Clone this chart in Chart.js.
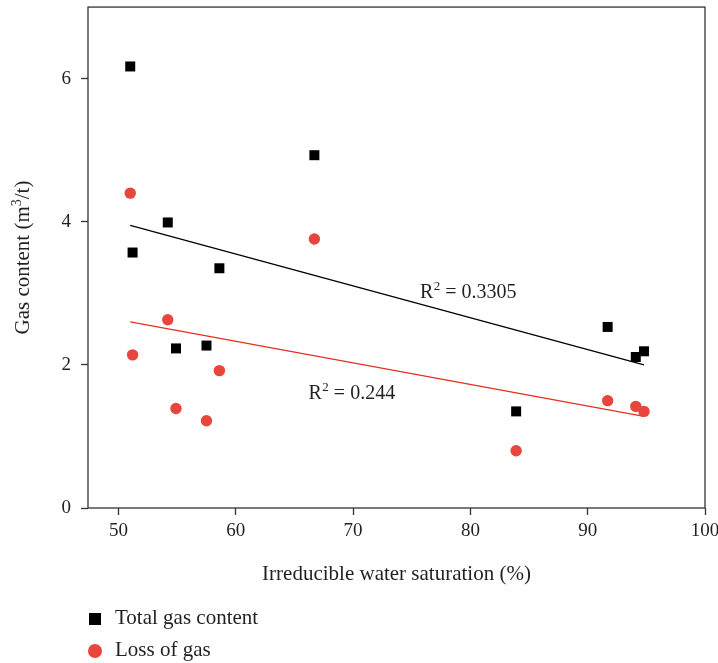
<!DOCTYPE html>
<html>
<head>
<meta charset="utf-8">
<script src="https://cdn.jsdelivr.net/npm/chart.js@4.4.1/dist/chart.umd.min.js"></script>
<style>
  html, body { margin: 0; padding: 0; background: #fff; }
  #chart { display: block; }
</style>
</head>
<body>
<canvas id="chart" width="718" height="663"></canvas>
<script>
// irreducible water saturation (%) for each sample
const saturation = [51.0, 51.2, 54.2, 54.9, 57.5, 58.6, 66.7, 83.9, 91.7, 94.1, 94.8];
// gas content (m3/t)
const totalGas = [6.17, 3.57, 3.99, 2.23, 2.27, 3.35, 4.93, 1.35, 2.53, 2.11, 2.19];
const lossGas = [4.40, 2.14, 2.63, 1.39, 1.22, 1.92, 3.76, 0.80, 1.50, 1.42, 1.35];

// fitted trend lines, start and end
const trendX = [51.0, 94.8];
const totalTrend = [3.95, 2.00];
const lossTrend = [2.60, 1.28];
const r2Values = ['0.3305', '0.244'];

const xTicks = [50, 60, 70, 80, 90, 100];
const yTicks = [0, 2, 4, 6];

const seriesNames = ['Total gas content', 'Loss of gas'];
const black = '#000000';
const red = '#e8453c';
const axisColor = '#333333';
const textColor = '#231f20';
const serif = '"Liberation Serif", "DejaVu Serif", serif';

function pairs(xs, ys) {
  return xs.map((x, i) => ({ x: x, y: ys[i] }));
}

// box around the plot area
const frame = {
  id: 'frame',
  afterDraw(chart) {
    const { ctx, chartArea: a } = chart;
    ctx.save();
    ctx.strokeStyle = axisColor;
    ctx.lineWidth = 1.3;
    ctx.strokeRect(a.left, a.top, a.right - a.left, a.bottom - a.top);
    ctx.restore();
  }
};

// y axis title with a real superscript
const yTitle = {
  id: 'yTitle',
  afterDraw(chart) {
    const { ctx, chartArea: a } = chart;
    const parts = [['Gas content (m', 21, 0], ['3', 14, -8], ['/t)', 21, 0]];
    ctx.save();
    ctx.translate(29, (a.top + a.bottom) / 2);
    ctx.rotate(-Math.PI / 2);
    ctx.fillStyle = textColor;
    ctx.textBaseline = 'alphabetic';
    ctx.textAlign = 'left';
    let total = 0;
    parts.forEach(p => { ctx.font = p[1] + 'px ' + serif; total += ctx.measureText(p[0]).width; });
    let px = -total / 2;
    parts.forEach(p => {
      ctx.font = p[1] + 'px ' + serif;
      ctx.fillText(p[0], px, p[2]);
      px += ctx.measureText(p[0]).width;
    });
    ctx.restore();
  }
};

// R^2 labels next to the trend lines
const r2Text = {
  id: 'r2Text',
  afterDatasetsDraw(chart) {
    const { ctx, scales: { x, y } } = chart;
    const spots = [[75.7, 2.93], [66.2, 1.53]];
    ctx.save();
    ctx.fillStyle = textColor;
    ctx.textBaseline = 'alphabetic';
    ctx.textAlign = 'left';
    r2Values.forEach((v, i) => {
      let px = x.getPixelForValue(spots[i][0]);
      const py = y.getPixelForValue(spots[i][1]);
      ctx.font = '20px ' + serif;
      ctx.fillText('R', px, py);
      px += ctx.measureText('R').width;
      ctx.font = '13px ' + serif;
      ctx.fillText('2', px + 0.5, py - 8);
      px += ctx.measureText('2').width + 0.5;
      ctx.font = '20px ' + serif;
      ctx.fillText(' = ' + v, px, py);
    });
    ctx.restore();
  }
};

// two-row legend under the x axis
const legendRows = {
  id: 'legendRows',
  afterDraw(chart) {
    const ctx = chart.ctx;
    ctx.save();
    ctx.font = '21px ' + serif;
    ctx.textBaseline = 'alphabetic';
    ctx.textAlign = 'left';
    // square marker
    ctx.fillStyle = black;
    ctx.fillRect(89, 613, 12, 12);
    ctx.fillStyle = textColor;
    ctx.fillText(seriesNames[0], 115, 624);
    // round marker
    ctx.fillStyle = red;
    ctx.beginPath();
    ctx.arc(95, 651, 7, 0, Math.PI * 2);
    ctx.fill();
    ctx.fillStyle = textColor;
    ctx.fillText(seriesNames[1], 115, 656);
    ctx.restore();
  }
};

new Chart(document.getElementById('chart'), {
  type: 'scatter',
  data: {
    datasets: [
      {
        label: seriesNames[0],
        data: pairs(saturation, totalGas),
        pointStyle: 'rect',
        pointRadius: 7.07,
        pointHoverRadius: 7.07,
        backgroundColor: black,
        borderWidth: 0,
        order: 0
      },
      {
        label: seriesNames[1],
        data: pairs(saturation, lossGas),
        pointStyle: 'circle',
        pointRadius: 5.7,
        pointHoverRadius: 5.7,
        backgroundColor: red,
        borderWidth: 0,
        order: 0
      },
      {
        type: 'line',
        label: 'total fit',
        data: pairs(trendX, totalTrend),
        borderColor: black,
        borderWidth: 1.3,
        pointRadius: 0,
        fill: false,
        order: 2
      },
      {
        type: 'line',
        label: 'loss fit',
        data: pairs(trendX, lossTrend),
        borderColor: '#e5301f',
        borderWidth: 1.3,
        pointRadius: 0,
        fill: false,
        order: 2
      }
    ]
  },
  options: {
    responsive: false,
    animation: false,
    devicePixelRatio: 1,
    layout: { padding: { left: 0, top: 5, right: 13, bottom: 70 } },
    plugins: {
      legend: { display: false },
      tooltip: { enabled: false }
    },
    scales: {
      x: {
        type: 'linear',
        min: 47.4,
        max: 100,
        afterBuildTicks: s => { s.ticks = xTicks.map(v => ({ value: v })); },
        afterFit: s => { s.height = 85; s.paddingLeft = 0; s.paddingRight = 0; },
        border: { display: false },
        grid: { drawOnChartArea: false, drawTicks: true, tickLength: 7, tickColor: axisColor, tickWidth: 1.3 },
        ticks: { color: textColor, font: { family: serif, size: 19 }, padding: 5, maxRotation: 0 },
        title: {
          display: true,
          text: 'Irreducible water saturation (%)',
          color: textColor,
          font: { family: serif, size: 21 },
          padding: { top: 0, bottom: 6 }
        }
      },
      y: {
        type: 'linear',
        min: 0,
        max: 7,
        afterBuildTicks: s => { s.ticks = yTicks.map(v => ({ value: v })); },
        afterFit: s => { s.width = 88; s.paddingTop = 0; s.paddingBottom = 0; },
        border: { display: false },
        grid: { drawOnChartArea: false, drawTicks: true, tickLength: 7, tickColor: axisColor, tickWidth: 1.3 },
        ticks: { color: textColor, font: { family: serif, size: 19 }, padding: 10 }
      }
    }
  },
  plugins: [frame, yTitle, r2Text, legendRows]
});
</script>
</body>
</html>
